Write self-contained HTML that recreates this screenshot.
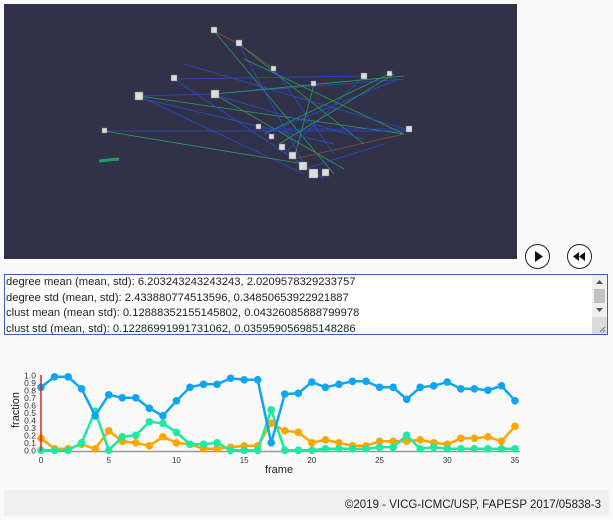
<!DOCTYPE html>
<html><head><meta charset="utf-8">
<style>
body{margin:0;width:613px;height:516px;background:#fafafa;font-family:"Liberation Sans",sans-serif;position:relative;overflow:hidden}
#view{position:absolute;left:4px;top:4px;width:513px;height:255px;background:#32314a}
.btn{position:absolute;top:244px;width:25px;height:25px;border:1px solid #222;border-radius:50%;box-sizing:border-box;background:#fff}
#ta{position:absolute;left:4px;top:274px;width:604px;height:61px;border:1px solid #3b64b8;box-sizing:border-box;background:#fff;font-size:11.2px;line-height:15.5px;padding:0 0 0 1px;color:#222;white-space:nowrap;overflow:hidden}
#sb{position:absolute;right:0;top:0;width:15px;height:100%;background:#f0f0f0}
#foot{position:absolute;left:4px;top:490px;width:605px;height:26px;background:#f0f0f0;font-size:11.5px;color:#222;text-align:right;line-height:30px;box-sizing:border-box;padding-right:8px}
</style></head><body>
<svg id="view" viewBox="0 0 513 255">
<g stroke-width="0.8" opacity="0.85">
<line x1="135" y1="92" x2="300" y2="170" stroke="#2a52d8"/>
<line x1="135" y1="92" x2="400" y2="130" stroke="#27b060"/>
<line x1="170" y1="75" x2="320" y2="175" stroke="#2a52d8"/>
<line x1="210" y1="27" x2="330" y2="170" stroke="#27b060"/>
<line x1="235" y1="40" x2="300" y2="160" stroke="#2a52d8"/>
<line x1="235" y1="40" x2="360" y2="140" stroke="#27b060"/>
<line x1="210" y1="90" x2="400" y2="75" stroke="#2a52d8"/>
<line x1="210" y1="90" x2="340" y2="165" stroke="#27b060"/>
<line x1="100" y1="127" x2="405" y2="127" stroke="#2a52d8"/>
<line x1="100" y1="127" x2="300" y2="160" stroke="#27b060"/>
<line x1="270" y1="65" x2="330" y2="150" stroke="#2a52d8"/>
<line x1="310" y1="80" x2="290" y2="155" stroke="#27b060"/>
<line x1="360" y1="72" x2="280" y2="150" stroke="#2a52d8"/>
<line x1="385" y1="70" x2="260" y2="130" stroke="#27b060"/>
<line x1="250" y1="125" x2="405" y2="125" stroke="#2a52d8"/>
<line x1="135" y1="92" x2="210" y2="90" stroke="#2a52d8"/>
<line x1="210" y1="90" x2="400" y2="72" stroke="#27b060"/>
<line x1="170" y1="75" x2="360" y2="72" stroke="#2a52d8"/>
<line x1="235" y1="40" x2="270" y2="65" stroke="#a05030"/>
<line x1="210" y1="27" x2="235" y2="40" stroke="#a05030"/>
<line x1="290" y1="155" x2="400" y2="130" stroke="#a05030"/>
<line x1="300" y1="165" x2="380" y2="140" stroke="#2a52d8"/>
<line x1="240" y1="55" x2="400" y2="130" stroke="#27b060"/>
<line x1="180" y1="60" x2="405" y2="126" stroke="#2a52d8"/>
<line x1="260" y1="130" x2="395" y2="75" stroke="#2a52d8"/>
<line x1="275" y1="140" x2="390" y2="70" stroke="#27b060"/>
<line x1="140" y1="95" x2="330" y2="140" stroke="#2a52d8"/>
<line x1="215" y1="92" x2="360" y2="135" stroke="#2a52d8"/>
<line x1="95" y1="157" x2="115" y2="155" stroke="#27b060" stroke-width="3"/>
</g>
<g fill="#ddd" stroke="#777" stroke-width="0.5">
<rect x="131" y="88" width="8" height="8"/><rect x="167" y="71" width="6" height="6"/><rect x="207" y="86" width="8" height="8"/>
<rect x="207" y="23" width="6" height="6"/><rect x="232" y="36" width="6" height="6"/><rect x="267" y="62" width="5" height="5"/>
<rect x="307" y="77" width="5" height="5"/><rect x="357" y="69" width="6" height="6"/><rect x="383" y="67" width="5" height="5"/>
<rect x="402" y="122" width="6" height="6"/><rect x="98" y="124" width="5" height="5"/><rect x="252" y="120" width="5" height="5"/>
<rect x="265" y="130" width="5" height="5"/><rect x="275" y="140" width="6" height="6"/><rect x="285" y="148" width="7" height="7"/>
<rect x="295" y="158" width="8" height="8"/><rect x="305" y="165" width="9" height="9"/><rect x="318" y="165" width="7" height="7"/>
</g>
</svg>
<div class="btn" style="left:525px"><svg width="23" height="23"><polygon points="9,6 9,17 17,11.5" fill="#111"/></svg></div>
<div class="btn" style="left:567px"><svg width="23" height="23"><polygon points="11,7 11,16 5,11.5" fill="#111"/><polygon points="17,7 17,16 11,11.5" fill="#111"/></svg></div>
<div id="ta">degree mean (mean, std): 6.203243243243243, 2.0209578329233757<br>degree std (mean, std): 2.433880774513596, 0.34850653922921887<br>clust mean (mean std): 0.12888352155145802, 0.04326085888799978<br>clust std (mean, std): 0.12286991991731062, 0.035959056985148286<div id="sb"><svg width="15" height="59"><polygon points="4,9 11,9 7.5,5" fill="#555"/><rect x="2" y="14" width="11" height="14" fill="#c1c1c1"/><polygon points="4,33 11,33 7.5,37" fill="#555"/><rect x="0" y="42" width="15" height="17" fill="#dcdcdc"/><line x1="8" y1="57" x2="13" y2="52" stroke="#777"/><line x1="11" y1="57" x2="13" y2="55" stroke="#777"/></svg></div></div>
<svg id="chart" width="613" height="120" style="position:absolute;left:0;top:365px"></svg>
<div id="foot">©2019 - VICG-ICMC/USP, FAPESP 2017/05838-3</div>
<script>
const frames=[0,1,2,3,4,5,6,7,8,9,10,11,12,13,14,15,16,17,18,19,20,21,22,23,24,25,26,27,28,29,30,31,32,33,34,35];
const blueVals=[0.84,0.98,0.98,0.82,0.46,0.74,0.70,0.70,0.56,0.46,0.66,0.84,0.88,0.88,0.96,0.94,0.94,0.10,0.75,0.76,0.91,0.84,0.88,0.92,0.92,0.84,0.84,0.68,0.84,0.86,0.91,0.82,0.82,0.80,0.86,0.66];
const orangeVals=[0.16,0.02,0.02,0.08,0.02,0.26,0.12,0.10,0.06,0.18,0.10,0.08,0.02,0.02,0.04,0.06,0.06,0.36,0.26,0.24,0.10,0.14,0.10,0.06,0.06,0.12,0.12,0.12,0.14,0.10,0.08,0.16,0.16,0.18,0.12,0.32];
const greenVals=[0,0,0,0.10,0.52,0,0.18,0.20,0.38,0.36,0.24,0.08,0.08,0.10,0,0,0,0.54,0,0,0,0.02,0.02,0.02,0.02,0.04,0.04,0.20,0.02,0.04,0.02,0.02,0.02,0.02,0.02,0.02];
const yTicks=[0,0.1,0.2,0.3,0.4,0.5,0.6,0.7,0.8,0.9,1.0];
const xTicks=[0,5,10,15,20,25,30,35];
const NS='http://www.w3.org/2000/svg';
const svg=document.getElementById('chart');
const X=v=>41+v*(515-41)/35;
const Y=v=>85.3-v*75;
function mk(t,a,p){const e=document.createElementNS(NS,t);for(const k in a)e.setAttribute(k,a[k]);(p||svg).appendChild(e);return e;}
const ax=mk('line',{x1:41,y1:86.5,x2:520,y2:86.5,stroke:'#999','stroke-width':1.5});


yTicks.forEach(v=>{const t=mk('text',{x:36,y:Y(v)+3,'font-size':8.5,'text-anchor':'end',fill:'#333'});t.textContent=v.toFixed(1);

});
xTicks.forEach(v=>{const t=mk('text',{x:X(v),y:98,'font-size':8,'text-anchor':'middle',fill:'#333'});t.textContent=v;

});
const yt=mk('text',{x:0,y:0,'font-size':11,'text-anchor':'middle',fill:'#222',transform:'translate(19,45) rotate(-90)'});yt.textContent='fraction';


const xt=mk('text',{x:279,y:108,'font-size':11,'text-anchor':'middle',fill:'#222'});xt.textContent='frame';


[[orangeVals,'#ffa500','orange'],[greenVals,'#1de9a0','green'],[blueVals,'#0ea5f5','blue']].forEach(([vals,c,n])=>{
 const pl=mk('polyline',{points:vals.map((v,i)=>X(frames[i])+','+Y(v)).join(' '),fill:'none',stroke:c,'stroke-width':2.5});
 
 
 vals.forEach((v,i)=>{const ci=mk('circle',{cx:X(frames[i]),cy:Y(v),r:3.8,fill:c});
 
 });
});
const cur=mk('line',{x1:41,y1:10,x2:41,y2:86,stroke:'#d22','stroke-width':1.5});


</script>
</body></html>
